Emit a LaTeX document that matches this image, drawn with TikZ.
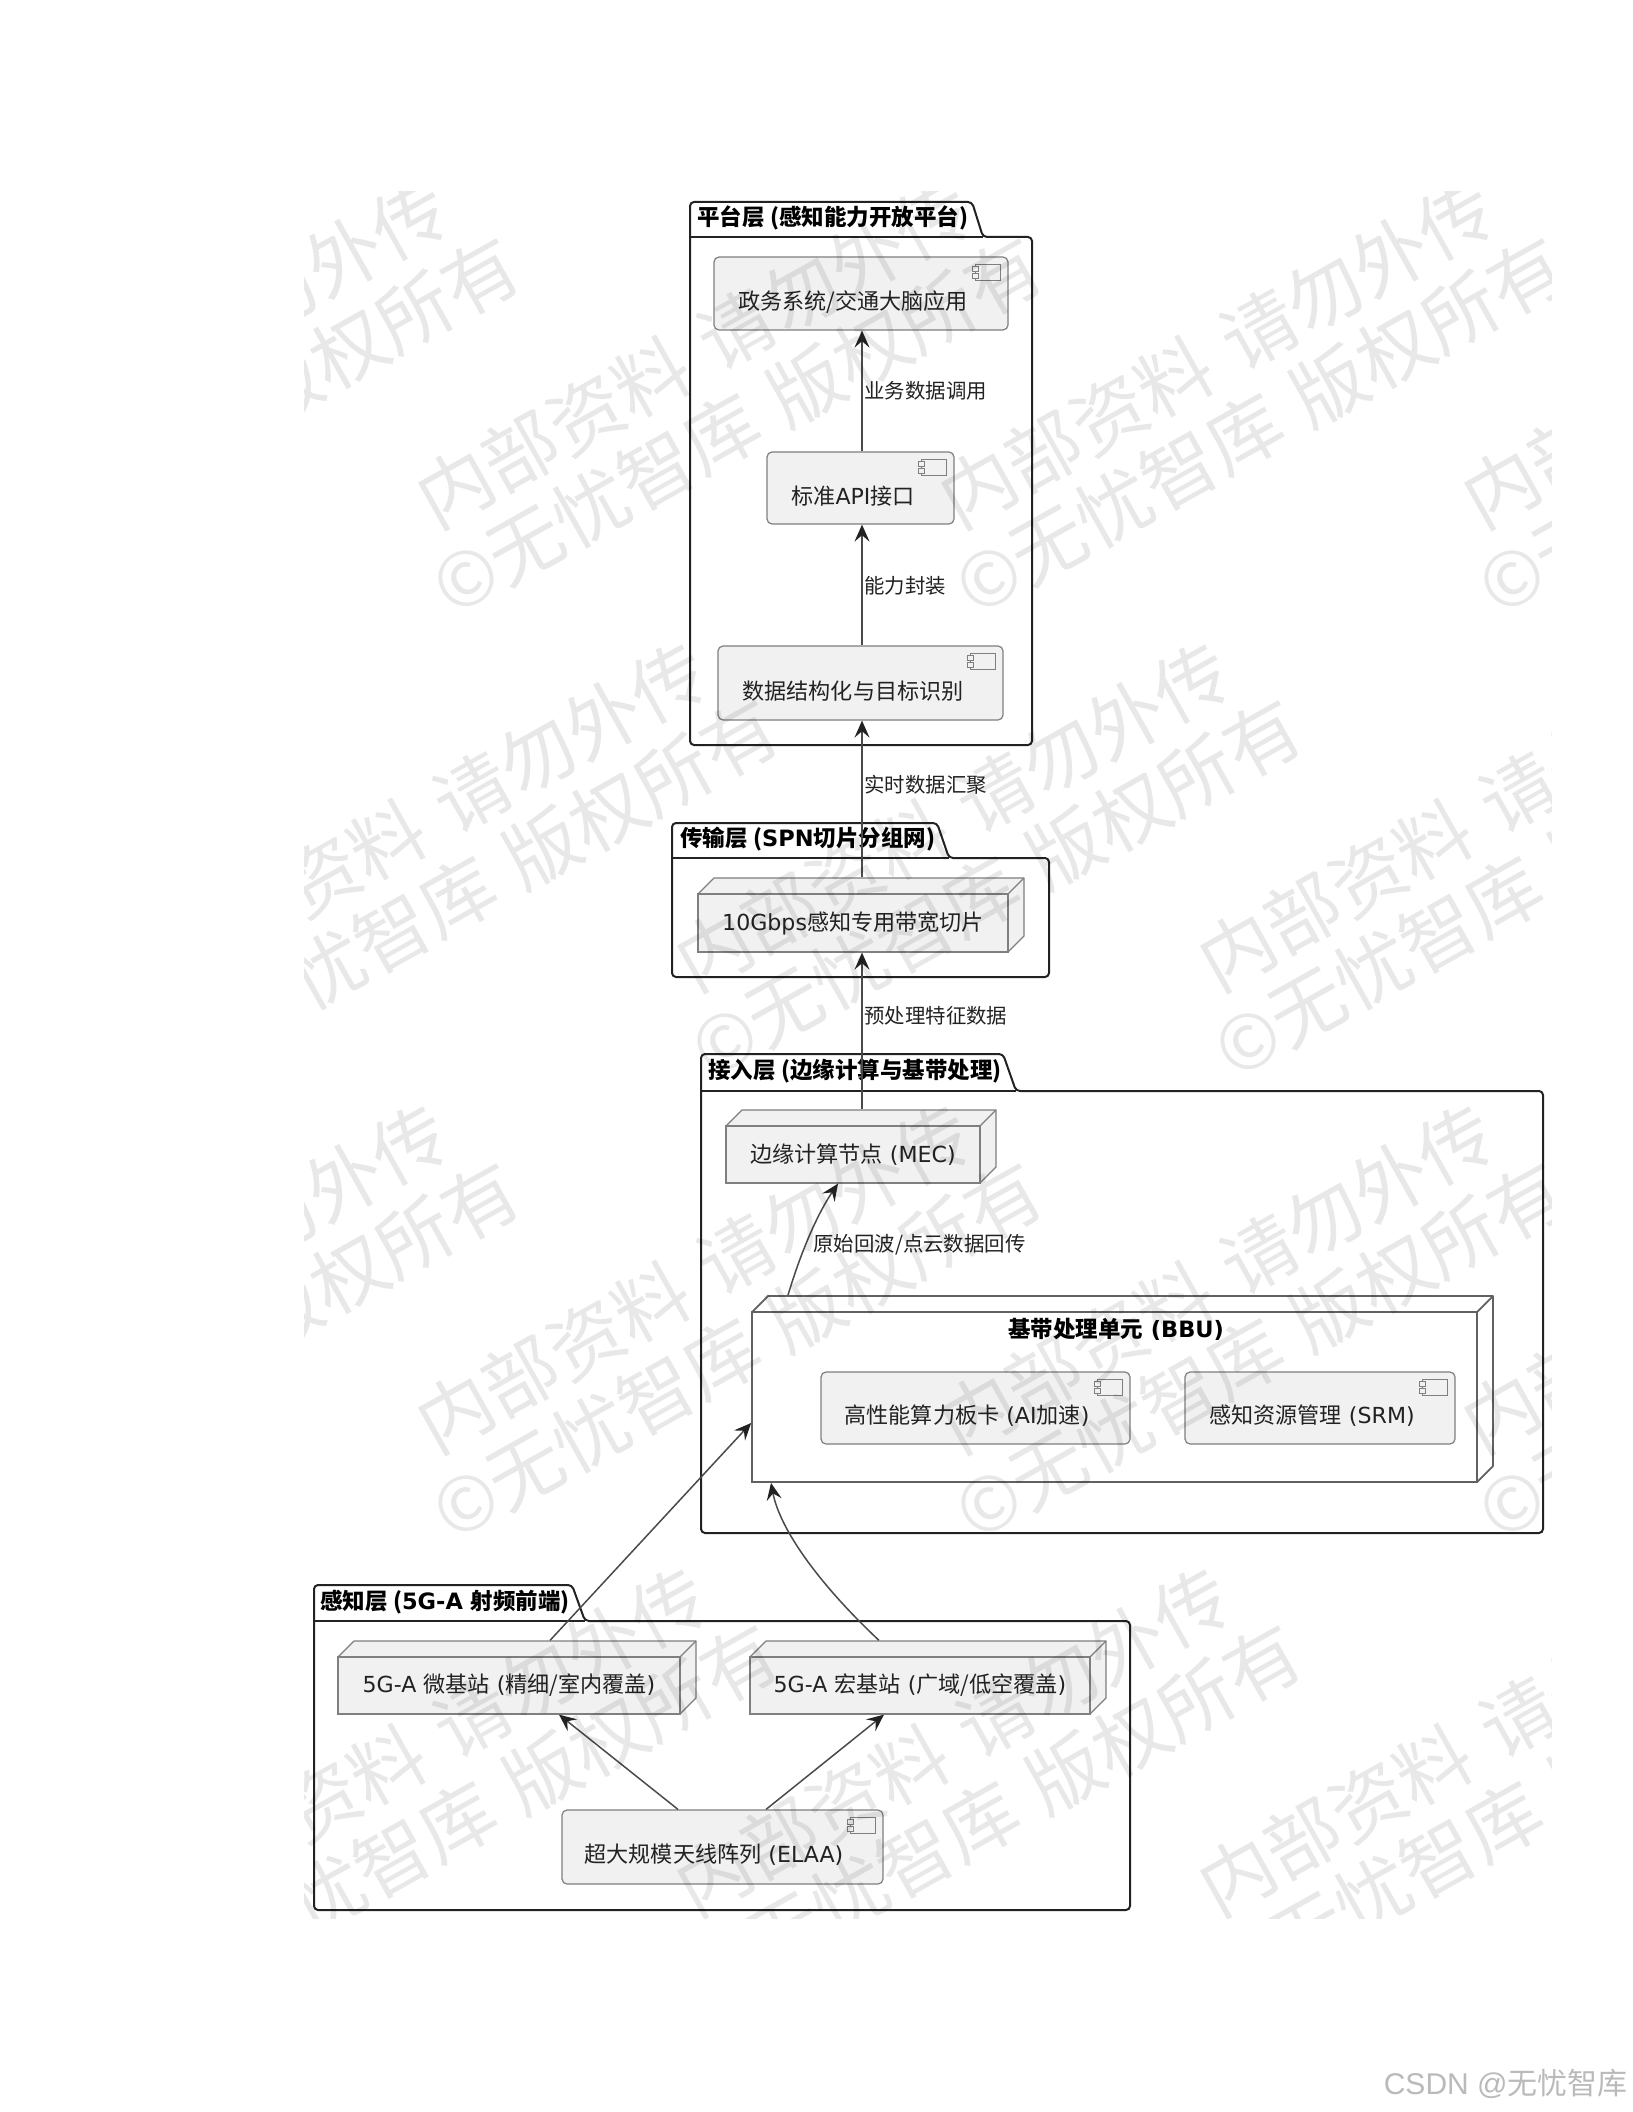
\documentclass[tikz,border=0pt]{standalone}
\usepackage{fontspec}
\usetikzlibrary{arrows.meta}
\setmainfont{DejaVu Sans}
\newfontfamily\cjk{Noto Sans CJK SC}
\newfontfamily\csdnfont{Liberation Sans}
\newcommand\Zh[1]{{\cjk #1}}
\definecolor{boxfill}{HTML}{F1F1F1}
\definecolor{boxline}{HTML}{7F7F7F}
\definecolor{framecol}{HTML}{222222}
\definecolor{linecol}{HTML}{4A4A4A}
\definecolor{textcol}{HTML}{222222}
\tikzset{
  x=0.5pt,y=-0.5pt,
  pkgframe/.style={draw=framecol,line width=1pt,rounded corners=2pt,line join=round},
  pkgtitle/.style={anchor=west,inner sep=0pt,text=black,font=\fontsize{11.25}{13}\selectfont\bfseries},
  compbox/.style={draw=boxline,fill=boxfill,line width=0.6pt,rounded corners=2.5pt,inner sep=0pt},
  frontbox/.style={draw=boxline,line width=0.6pt,inner sep=0pt,font=\fontsize{11.05}{13}\selectfont,text=textcol},
  sidebox/.style={draw=boxline,line width=0.6pt,line join=round},
  boxtext/.style={inner sep=0pt,font=\fontsize{11.05}{13}\selectfont,text=textcol},
  iconpart/.style={draw=boxline,line width=0.5pt,fill=boxfill},
  edgelabel/.style={anchor=west,inner sep=0pt,font=\fontsize{10.2}{12}\selectfont,text=textcol},
  flow/.style={draw=linecol,line width=0.75pt,-{Stealth[length=8.5pt,width=7.5pt,inset=3.2pt,color=framecol]}},
  wmark/.style={anchor=west,inner sep=0pt,rotate=29.3,text=black,text opacity=0.09,font=\fontsize{37.5}{40}\selectfont\cjk},
}
% name, x1,y1,x2,y2, text x, text y, text
\newcommand\compnode[8]{%
  \node[compbox,minimum width={(#4-#2)*0.5pt},minimum height={(#5-#3)*0.5pt}] (#1) at ({(#2+#4)/2},{(#3+#5)/2}) {};
  \draw[iconpart] ([shift={(-33,8)}]#1.north east) rectangle ([shift={(-8,24)}]#1.north east);
  \draw[iconpart] ([shift={(-36,10)}]#1.north east) rectangle ([shift={(-30,15)}]#1.north east);
  \draw[iconpart] ([shift={(-36,17)}]#1.north east) rectangle ([shift={(-30,22)}]#1.north east);
  \node[boxtext] (#1-text) at (#6,#7) {#8};
}
% name, x1,y1,x2,y2, fill, text
\newcommand\cubenode[7]{%
  \draw[sidebox,fill=#6] (#2,#3) -- ++(16,-16) -- (#4+16,#3-16) -- (#4+16,#5-16) -- (#4,#5) -- (#4,#3) -- cycle;
  \draw[sidebox] (#4,#3) -- (#4+16,#3-16);
  \node[frontbox,fill=#6,minimum width={(#4-#2)*0.5pt},minimum height={(#5-#3)*0.5pt}] (#1) at ({(#2+#4)/2},{(#3+#5)/2}) {#7};
  \coordinate (#1-top) at ([yshift=8pt]#1.north);
}
\begin{document}
\begin{tikzpicture}
\useasboundingbox (0,0) rectangle (1632,2112);
\fill[white] (0,0) rectangle (1632,2112);

% packages
\draw[pkgframe] (690,237) -- (690,202) -- (972,202) -- (983,237) -- (1032,237) -- (1032,745) -- (690,745) -- cycle;
\draw[framecol,line width=1pt] (690,237) -- (983,237);
\node[pkgtitle] (platTitle) at (697,218) {\Zh{平台层 (感知能力开放平台)}};

\draw[pkgframe] (672,858) -- (672,823) -- (937,823) -- (949,858) -- (1049,858) -- (1049,977) -- (672,977) -- cycle;
\draw[framecol,line width=1pt] (672,858) -- (949,858);
\node[pkgtitle] (transTitle) at (680,839) {\Zh{传输层 (}SPN\Zh{切片分组网)}};

\draw[pkgframe] (701,1091) -- (701,1054) -- (1003,1054) -- (1016,1091) -- (1543,1091) -- (1543,1533) -- (701,1533) -- cycle;
\draw[framecol,line width=1pt] (701,1091) -- (1016,1091);
\node[pkgtitle] (accTitle) at (708,1071) {\Zh{接入层 (边缘计算与基带处理)}};

\draw[pkgframe] (314,1621) -- (314,1585) -- (572,1585) -- (585,1621) -- (1130,1621) -- (1130,1910) -- (314,1910) -- cycle;
\draw[framecol,line width=1pt] (314,1621) -- (585,1621);
\node[pkgtitle] (senseTitle) at (320,1602) {\Zh{感知层 (}5G-A \Zh{射频前端)}};

% platform layer
\compnode{app}{714}{257}{1008}{330}{853}{302}{\Zh{政务系统/交通大脑应用}}
\compnode{api}{767}{452}{954}{524}{853}{496}{\Zh{标准}API\Zh{接口}}
\compnode{struct}{718}{646}{1003}{720}{853}{691}{\Zh{数据结构化与目标识别}}

% transport layer
\cubenode{slice}{698}{894}{1008}{952}{boxfill}{10Gbps\Zh{感知专用带宽切片}}

% access layer
\cubenode{mec}{726}{1126}{980}{1183}{boxfill}{\Zh{边缘计算节点} (MEC)}
\begingroup
\tikzset{sidebox/.append style={line width=0.9pt,draw=black!62},frontbox/.append style={line width=0.9pt,draw=black!62}}
\cubenode{bbu}{752}{1312}{1477}{1482}{white}{}
\endgroup
\node[pkgtitle,anchor=center] (bbuTitle) at (1116,1329) {\Zh{基带处理单元} (BBU)};
\compnode{ai}{821}{1372}{1130}{1444}{967}{1416}{\Zh{高性能算力板卡} (AI\Zh{加速})}
\compnode{srm}{1185}{1372}{1455}{1444}{1312}{1416}{\Zh{感知资源管理} (SRM)}

% sensing layer
\cubenode{micro}{338}{1657}{680}{1714}{boxfill}{5G-A \Zh{微基站} (\Zh{精细/室内覆盖})}
\cubenode{macro}{750}{1657}{1090}{1714}{boxfill}{5G-A \Zh{宏基站} (\Zh{广域/低空覆盖})}
\compnode{elaa}{562}{1810}{883}{1884}{714}{1855}{\Zh{超大规模天线阵列} (ELAA)}

% guide coordinates for connector ends
\coordinate (spine) at (862,0);
\coordinate (microOut) at (550,0);
\coordinate (macroOut) at (879,0);
\coordinate (bbuInY) at (0,1423);
\coordinate (bbuInX) at (771,0);
\coordinate (bbuOut) at (788,0);
\coordinate (mecIn) at (838,0);
\coordinate (elaaL) at (678,0);
\coordinate (elaaR) at (766,0);
\coordinate (microIn) at (559,0);
\coordinate (macroIn) at (884,0);

% connectors
\draw[flow] (api.north -| spine) -- (app.south -| spine);
\draw[flow] (struct.north -| spine) -- (api.south -| spine);
\draw[flow] (slice-top -| spine) -- (struct.south -| spine);
\draw[flow] (mec-top -| spine) -- (slice.south -| spine);
\draw[flow] (bbu-top -| bbuOut) .. controls (803,1245) and (820,1210) .. (mec.south -| mecIn);
\draw[flow] (micro-top -| microOut) -- (bbu.west |- bbuInY);
\draw[flow] (macro-top -| macroOut) .. controls (820,1585) and (780,1530) .. (bbu.south -| bbuInX);
\draw[flow] (elaa.north -| elaaL) -- (micro.south -| microIn);
\draw[flow] (elaa.north -| elaaR) -- (macro.south -| macroIn);

% connector labels
\node[edgelabel] (lblCall) at (864,391) {\Zh{业务数据调用}};
\node[edgelabel] (lblWrap) at (864,586) {\Zh{能力封装}};
\node[edgelabel] (lblAgg) at (864,785) {\Zh{实时数据汇聚}};
\node[edgelabel] (lblPre) at (864,1016) {\Zh{预处理特征数据}};
\node[edgelabel] (lblRaw) at (813,1245) {\Zh{原始回波/点云数据回传}};

% watermark
\begin{scope}
\clip (304,192) rectangle (1551,1918);
\foreach \r/\off in {-1/259,0/0,1/259,2/0,3/259}{
  \foreach \c in {-2,-1,0,1,2,3}{
    \node[wmark] (wmA\r\c) at ({422+\off+523*\c},{506+462.5*\r}) {内部资料\hspace{.3em}请勿外传};
    \node[wmark] (wmB\r\c) at ({438+\off+523*\c},{593+462.5*\r}) {©无忧智库\hspace{.3em}版权所有};
  }
}
\end{scope}

% site mark
\node[anchor=east,inner sep=0pt,text=black!27,font=\fontsize{15}{18}\selectfont] (csdn) at (1628,2084) {{\csdnfont CSDN @}\Zh{无忧智库}};
\end{tikzpicture}
\end{document}
